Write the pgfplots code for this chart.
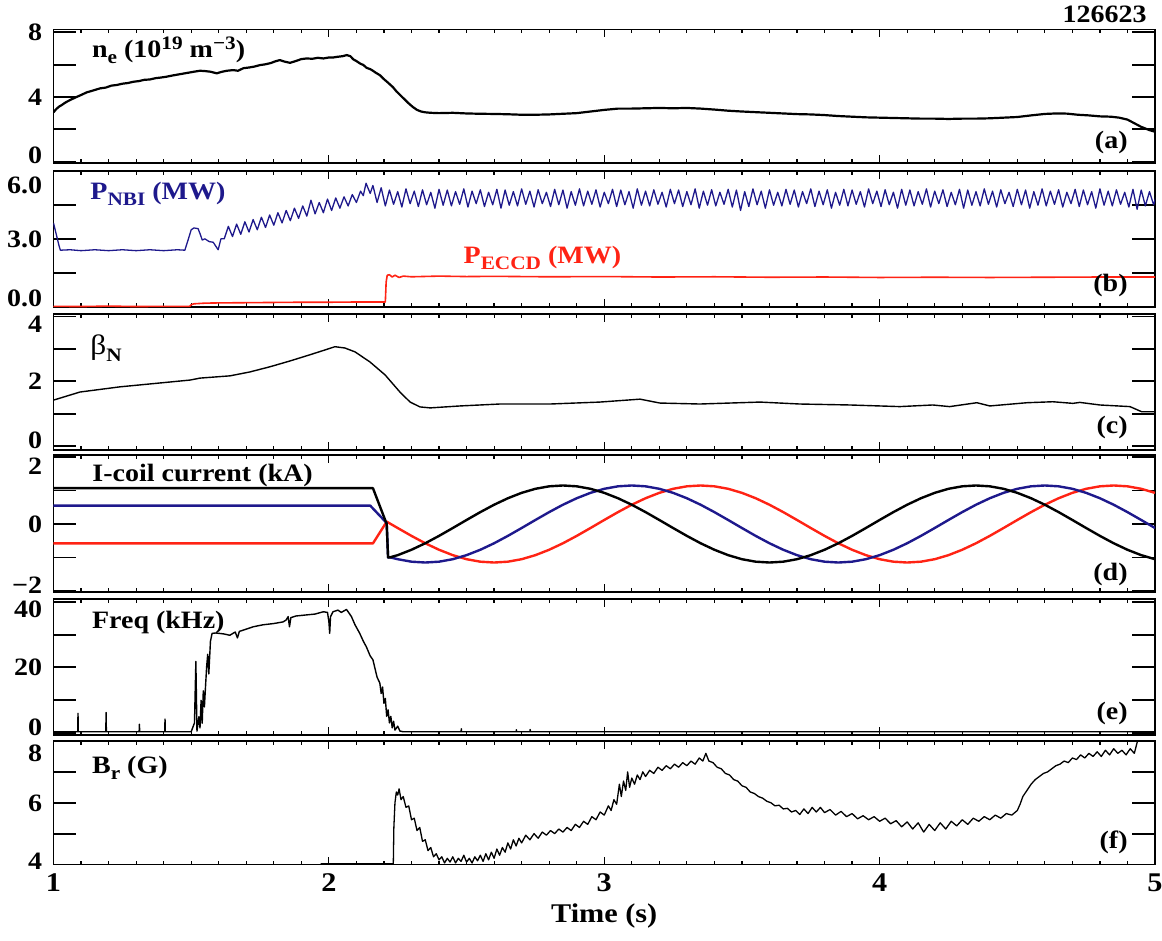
\documentclass[border=0pt]{standalone}
\usepackage{fontspec}
\setmainfont{Liberation Serif}[FakeStretch=1.12]
\usepackage{pgfplots}
\pgfplotsset{compat=1.18}
\definecolor{nbi}{RGB}{30,25,140}
\definecolor{ecr}{RGB}{255,35,20}
\newcommand\sub[1]{\raisebox{-3pt}{\fontsize{9.5}{10}\selectfont #1}}
\newcommand\sups[1]{\raisebox{4pt}{\fontsize{9.5}{10}\selectfont #1}}
\pgfplotsset{
  panel/.style={
    scale only axis, width=550.75pt, anchor=north west,
    xmin=1, xmax=5, xtick={1,2,3,4,5}, minor x tick num=9, xticklabels={},
    tick align=inside, tick pos=both,
    major tick length=11.35pt, minor tick length=2pt,
    xtick style={/pgfplots/major tick length=4pt, line width=0.6pt, black},
    ytick style={line width=0.9pt, black},
    minor tick style={line width=0.5pt, black},
    axis line style={line width=0.9pt},
    yticklabel style={anchor=base east, yshift=-4.15pt, xshift=-1.3pt},
    every axis plot/.append style={line join=round, mark=none},
  },
}
\tikzset{
  lab/.style={anchor=base west, inner sep=0pt},
  pan/.style={anchor=base east, inner sep=0pt, xshift=-13.5pt, yshift=8pt},
}
\begin{document}
\fontsize{12.5}{15}\selectfont\bfseries
\begin{tikzpicture}
\path[use as bounding box] (-26.75pt,0pt) rectangle (554.25pt,-470.5pt);
\node[anchor=base east, inner sep=0pt] at (546.75pt,-11.5pt) {126623};
% (a) n_e
\begin{axis}[panel, at={(0,-14.75pt)}, height=66.9pt, ymin=-0.1, ymax=8.17,
  ytick={0,2,4,6,8}, yticklabels={{\raisebox{3pt}{0}},{},{4},{},{8}}]
\addplot[black, line width=1.1pt] coordinates {
(1.000,3.05)(1.010,3.25)(1.020,3.40)(1.030,3.50)(1.040,3.62)(1.050,3.72)(1.065,3.85)(1.084,4.00)(1.100,4.12)(1.120,4.28)
(1.140,4.38)(1.169,4.53)(1.190,4.58)(1.210,4.70)(1.230,4.74)(1.250,4.82)(1.270,4.86)(1.290,4.94)(1.310,4.98)(1.330,5.06)
(1.350,5.08)(1.370,5.16)(1.390,5.20)(1.410,5.25)(1.430,5.32)(1.450,5.38)(1.470,5.44)(1.490,5.50)(1.510,5.56)(1.532,5.62)
(1.550,5.60)(1.570,5.56)(1.593,5.46)(1.610,5.55)(1.630,5.62)(1.652,5.66)(1.670,5.62)(1.690,5.78)(1.710,5.82)(1.730,5.88)
(1.750,5.97)(1.770,6.02)(1.790,6.10)(1.805,6.20)(1.822,6.28)(1.840,6.18)(1.859,6.11)(1.880,6.22)(1.900,6.34)(1.919,6.38)
(1.940,6.36)(1.960,6.42)(1.980,6.38)(2.000,6.44)(2.016,6.44)(2.030,6.48)(2.050,6.52)(2.065,6.59)(2.078,6.52)(2.089,6.32)
(2.100,6.22)(2.115,6.05)(2.125,5.98)(2.137,5.80)(2.150,5.72)(2.160,5.62)(2.170,5.50)(2.185,5.35)(2.200,5.10)(2.215,4.88)
(2.233,4.60)(2.245,4.35)(2.260,4.10)(2.275,3.85)(2.290,3.60)(2.305,3.38)(2.320,3.20)(2.335,3.10)(2.350,3.05)(2.370,3.02)
(2.400,3.00)(2.450,3.02)(2.500,2.98)(2.550,2.96)(2.600,2.95)(2.650,2.93)(2.700,2.90)(2.750,2.90)(2.800,2.92)(2.850,2.96)
(2.900,3.00)(2.950,3.10)(3.000,3.20)(3.050,3.28)(3.100,3.28)(3.150,3.30)(3.200,3.32)(3.250,3.30)(3.300,3.32)(3.350,3.28)
(3.400,3.22)(3.450,3.15)(3.500,3.10)(3.550,3.06)(3.600,3.02)(3.650,2.98)(3.700,2.94)(3.750,2.92)(3.800,2.88)(3.850,2.82)
(3.900,2.78)(3.950,2.74)(4.000,2.72)(4.050,2.70)(4.100,2.68)(4.150,2.66)(4.200,2.66)(4.250,2.64)(4.300,2.66)(4.350,2.66)
(4.400,2.68)(4.450,2.72)(4.500,2.76)(4.550,2.86)(4.600,2.95)(4.640,2.98)(4.680,2.97)(4.720,2.90)(4.760,2.86)(4.800,2.80)
(4.840,2.78)(4.870,2.72)(4.900,2.60)(4.920,2.42)(4.950,2.15)(4.980,1.95)(5.000,1.85)};
\node[lab, xshift=19.1pt, yshift=-13.9pt] at (rel axis cs:0,1) {n\sub{e} (10\sups{19} m\sups{−3})};
\node[pan, yshift=-0.5pt] at (rel axis cs:1,0) {(a)};
\end{axis}
% (b) P_NBI, P_ECCD
\begin{axis}[panel, at={(0,-85.35pt)}, height=68.15pt, ymin=0, ymax=6,
  ytick={0,1.5,3,4.5,6}, yticklabels={{\raisebox{4.5pt}{0.0}},{},{3.0},{},{\raisebox{-7.5pt}{6.0}}}]
\addplot[nbi, line width=0.65pt] coordinates {
(1.000,3.70)(1.010,3.20)(1.020,2.70)(1.025,2.50)(1.060,2.52)(1.100,2.48)(1.150,2.52)(1.200,2.48)(1.250,2.52)(1.300,2.48)
(1.350,2.52)(1.400,2.48)(1.450,2.52)(1.477,2.50)(1.490,3.00)(1.500,3.40)(1.510,3.48)(1.525,3.45)(1.533,3.20)(1.540,2.95)
(1.550,3.00)(1.565,2.88)(1.580,2.85)(1.598,2.52)(1.608,3.00)(1.620,3.00)
(1.635,3.55)(1.650,3.10)(1.665,3.65)(1.680,3.20)(1.695,3.75)(1.710,3.30)(1.725,3.85)(1.740,3.40)(1.755,3.95)(1.770,3.50)
(1.785,4.05)(1.800,3.60)(1.815,4.15)(1.830,3.70)(1.845,4.25)(1.860,3.80)(1.875,4.35)(1.890,3.90)(1.905,4.45)(1.920,4.00)
(1.935,4.70)(1.950,4.10)(1.965,4.60)(1.980,4.15)(1.995,4.75)(2.010,4.25)(2.025,4.80)(2.040,4.35)(2.055,4.85)(2.070,4.45)
(2.085,4.95)(2.100,4.60)(2.115,5.10)(2.125,4.90)(2.135,5.45)(2.150,5.00)(2.160,5.35)(2.175,4.60)(2.190,5.25)
(2.205,4.45)(2.220,5.15)(2.235,4.52)(2.250,5.08)(2.265,4.40)(2.280,5.20)(2.295,4.55)(2.310,5.10)(2.325,4.42)(2.340,5.16)
(2.355,4.50)(2.370,5.05)(2.385,4.35)(2.400,5.18)(2.415,4.48)(2.430,5.15)(2.445,4.45)(2.460,5.08)(2.475,4.52)(2.490,5.20)
(2.505,4.40)(2.520,5.10)(2.535,4.55)(2.550,5.16)(2.565,4.42)(2.580,5.05)(2.595,4.50)(2.610,5.18)(2.625,4.35)(2.640,5.15)
(2.655,4.48)(2.670,5.08)(2.685,4.45)(2.700,5.20)(2.715,4.52)(2.730,5.10)(2.745,4.40)(2.760,5.16)(2.775,4.55)(2.790,5.05)
(2.805,4.42)(2.820,5.18)(2.835,4.50)(2.850,5.15)(2.865,4.35)(2.880,5.08)(2.895,4.48)(2.910,5.20)(2.925,4.45)(2.940,5.10)
(2.955,4.52)(2.970,5.16)(2.985,4.40)(3.000,5.05)(3.015,4.55)(3.030,5.18)(3.045,4.42)(3.060,5.15)(3.075,4.50)(3.090,5.08)
(3.105,4.35)(3.120,5.20)(3.135,4.48)(3.150,5.10)(3.165,4.45)(3.180,5.16)(3.195,4.52)(3.210,5.05)(3.225,4.40)(3.240,5.18)
(3.255,4.55)(3.270,5.15)(3.285,4.42)(3.300,5.08)(3.315,4.50)(3.330,5.20)(3.345,4.35)(3.360,5.10)(3.375,4.48)(3.390,5.16)
(3.405,4.45)(3.420,5.05)(3.435,4.52)(3.450,5.18)(3.465,4.40)(3.480,5.15)(3.495,4.25)(3.510,5.08)(3.525,4.42)(3.540,5.20)
(3.555,4.50)(3.570,5.10)(3.585,4.35)(3.600,5.16)(3.615,4.48)(3.630,5.05)(3.645,4.45)(3.660,5.18)(3.675,4.52)(3.690,5.15)
(3.705,4.40)(3.720,5.08)(3.735,4.55)(3.750,5.20)(3.765,4.42)(3.780,5.10)(3.795,4.50)(3.810,5.16)(3.825,4.35)(3.840,5.05)
(3.855,4.48)(3.870,5.18)(3.885,4.45)(3.900,5.15)(3.915,4.52)(3.930,5.08)(3.945,4.40)(3.960,5.20)(3.975,4.55)(3.990,5.10)
(4.005,4.42)(4.020,5.16)(4.035,4.50)(4.050,5.05)(4.065,4.35)(4.080,5.18)(4.095,4.48)(4.110,5.15)(4.125,4.45)(4.140,5.08)
(4.155,4.52)(4.170,5.20)(4.185,4.40)(4.200,5.10)(4.215,4.55)(4.230,5.16)(4.245,4.42)(4.260,5.05)(4.275,4.50)(4.290,5.18)
(4.305,4.35)(4.320,5.15)(4.335,4.48)(4.350,5.08)(4.365,4.45)(4.380,5.20)(4.395,4.52)(4.410,5.10)(4.425,4.40)(4.440,5.16)
(4.455,4.55)(4.470,5.05)(4.485,4.42)(4.500,5.18)(4.515,4.50)(4.530,5.15)(4.545,4.35)(4.560,5.08)(4.575,4.48)(4.590,5.20)
(4.605,4.45)(4.620,5.10)(4.635,4.52)(4.650,5.16)(4.665,4.40)(4.680,5.05)(4.695,4.55)(4.710,5.18)(4.725,4.42)(4.740,5.15)
(4.755,4.50)(4.770,5.08)(4.785,4.35)(4.800,5.20)(4.815,4.48)(4.830,5.10)(4.845,4.45)(4.860,5.16)(4.875,4.52)(4.890,5.05)
(4.905,4.40)(4.920,5.18)(4.935,4.30)(4.950,5.15)(4.965,4.45)(4.980,5.08)(4.995,4.50)(5.010,5.10)};
\addplot[ecr, line width=0.8pt] coordinates {
(1.000,0.03)(1.100,0.02)(1.200,0.04)(1.300,0.02)(1.400,0.03)(1.495,0.03)(1.500,0.10)(1.510,0.14)(1.550,0.17)(1.600,0.18)
(1.700,0.19)(1.800,0.20)(1.900,0.21)(2.000,0.21)(2.100,0.22)(2.205,0.22)(2.208,1.10)(2.212,1.40)(2.220,1.42)(2.230,1.32)
(2.240,1.40)(2.255,1.30)(2.270,1.36)(2.300,1.33)(2.400,1.36)(2.500,1.34)(2.600,1.35)(2.800,1.33)(3.000,1.34)(3.200,1.32)
(3.400,1.33)(3.600,1.31)(3.800,1.32)(4.000,1.30)(4.200,1.31)(4.400,1.30)(4.600,1.31)(4.800,1.32)(5.000,1.32)};
\node[lab, xshift=18.25pt, yshift=-14.3pt, text=nbi] at (rel axis cs:0,1) {P\sub{NBI} (MW)};
\node[lab, xshift=204.9pt, yshift=-46.3pt, text=ecr] at (rel axis cs:0,1) {P\sub{ECCD} (MW)};
\node[pan] at (rel axis cs:1,0) {(b)};
\end{axis}
% (c) beta_N
\begin{axis}[panel, at={(0,-157pt)}, height=68pt, ymin=-0.12, ymax=4.08,
  ytick={0,1,2,3,4}, yticklabels={{\raisebox{3pt}{0}},{},{2},{},{\raisebox{-4pt}{4}}}]
\addplot[black, line width=0.7pt] coordinates {
(1.000,1.42)(1.096,1.67)(1.241,1.83)(1.387,1.95)(1.496,2.04)(1.532,2.10)(1.641,2.17)(1.713,2.29)(1.786,2.45)(1.859,2.63)
(1.931,2.82)(1.986,2.97)(2.022,3.07)(2.058,3.03)(2.095,2.91)(2.149,2.60)(2.204,2.20)(2.258,1.67)(2.295,1.36)(2.331,1.21)
(2.368,1.18)(2.476,1.24)(2.621,1.30)(2.803,1.30)(2.984,1.36)(3.130,1.45)(3.202,1.33)(3.347,1.30)(3.565,1.36)(3.710,1.30)
(3.892,1.27)(4.073,1.22)(4.193,1.27)(4.254,1.22)(4.353,1.34)(4.400,1.24)(4.535,1.34)(4.629,1.37)(4.702,1.32)(4.727,1.35)
(4.800,1.27)(4.909,1.22)(4.952,1.06)(5.000,1.06)};
\node[lab, xshift=18.25pt, yshift=-20.5pt] at (rel axis cs:0,1) {{\mdseries\fontsize{14}{15}\selectfont β}\sub{N}};
\node[pan] at (rel axis cs:1,0) {(c)};
\end{axis}
% (d) I-coil
\begin{axis}[panel, at={(0,-227.5pt)}, height=68.5pt, ymin=-2.03, ymax=2.06,
  ytick={-2,-1,0,1,2}, yticklabels={{\raisebox{3pt}{−2}},{},{0},{},{\raisebox{-4.4pt}{2}}}]
\addplot[ecr, line width=1.2pt] coordinates {
(1.000,-0.58)(2.160,-0.58)(2.210,0.07)(2.250,-0.120)(2.300,-0.355)(2.350,-0.575)(2.400,-0.769)(2.450,-0.930)(2.500,-1.051)(2.550,-1.125)
(2.600,-1.150)(2.650,-1.125)(2.700,-1.051)(2.750,-0.930)(2.800,-0.769)(2.850,-0.575)(2.900,-0.355)(2.950,-0.120)(3.000,0.120)(3.050,0.355)
(3.100,0.575)(3.150,0.769)(3.200,0.930)(3.250,1.051)(3.300,1.125)(3.350,1.150)(3.400,1.125)(3.450,1.051)(3.500,0.930)(3.550,0.769)
(3.600,0.575)(3.650,0.355)(3.700,0.120)(3.750,-0.120)(3.800,-0.355)(3.850,-0.575)(3.900,-0.769)(3.950,-0.930)(4.000,-1.051)(4.050,-1.125)
(4.100,-1.150)(4.150,-1.125)(4.200,-1.051)(4.250,-0.930)(4.300,-0.769)(4.350,-0.575)(4.400,-0.355)(4.450,-0.120)(4.500,0.120)(4.550,0.355)
(4.600,0.575)(4.650,0.769)(4.700,0.930)(4.750,1.051)(4.800,1.125)(4.850,1.150)(4.900,1.125)(4.950,1.051)(5.000,0.930)};
\addplot[nbi, line width=1.2pt] coordinates {
(1.000,0.55)(2.150,0.55)(2.210,0.03)(2.215,-1.00)(2.220,-0.99)(2.250,-1.051)(2.300,-1.125)(2.350,-1.150)(2.400,-1.125)(2.450,-1.051)
(2.500,-0.930)(2.550,-0.769)(2.600,-0.575)(2.650,-0.355)(2.700,-0.120)(2.750,0.120)(2.800,0.355)(2.850,0.575)(2.900,0.769)(2.950,0.930)
(3.000,1.051)(3.050,1.125)(3.100,1.150)(3.150,1.125)(3.200,1.051)(3.250,0.930)(3.300,0.769)(3.350,0.575)(3.400,0.355)(3.450,0.120)
(3.500,-0.120)(3.550,-0.355)(3.600,-0.575)(3.650,-0.769)(3.700,-0.930)(3.750,-1.051)(3.800,-1.125)(3.850,-1.150)(3.900,-1.125)(3.950,-1.051)
(4.000,-0.930)(4.050,-0.769)(4.100,-0.575)(4.150,-0.355)(4.200,-0.120)(4.250,0.120)(4.300,0.355)(4.350,0.575)(4.400,0.769)(4.450,0.930)
(4.500,1.051)(4.550,1.125)(4.600,1.150)(4.650,1.125)(4.700,1.051)(4.750,0.930)(4.800,0.769)(4.850,0.575)(4.900,0.355)(4.950,0.120)(5.000,-0.120)};
\addplot[black, line width=1.2pt] coordinates {
(1.000,1.07)(2.160,1.07)(2.210,0.00)(2.215,-1.00)(2.220,-1.00)(2.250,-0.930)(2.300,-0.769)(2.350,-0.575)(2.400,-0.355)(2.450,-0.120)
(2.500,0.120)(2.550,0.355)(2.600,0.575)(2.650,0.769)(2.700,0.930)(2.750,1.051)(2.800,1.125)(2.850,1.150)(2.900,1.125)(2.950,1.051)
(3.000,0.930)(3.050,0.769)(3.100,0.575)(3.150,0.355)(3.200,0.120)(3.250,-0.120)(3.300,-0.355)(3.350,-0.575)(3.400,-0.769)(3.450,-0.930)
(3.500,-1.051)(3.550,-1.125)(3.600,-1.150)(3.650,-1.125)(3.700,-1.051)(3.750,-0.930)(3.800,-0.769)(3.850,-0.575)(3.900,-0.355)(3.950,-0.120)
(4.000,0.120)(4.050,0.355)(4.100,0.575)(4.150,0.769)(4.200,0.930)(4.250,1.051)(4.300,1.125)(4.350,1.150)(4.400,1.125)(4.450,1.051)
(4.500,0.930)(4.550,0.769)(4.600,0.575)(4.650,0.355)(4.700,0.120)(4.750,-0.120)(4.800,-0.355)(4.850,-0.575)(4.900,-0.769)(4.950,-0.930)(5.000,-1.051)};
\node[lab, xshift=19.25pt, yshift=-13.35pt] at (rel axis cs:0,1) {I-coil current (kA)};
\node[pan, yshift=-2pt] at (rel axis cs:1,0) {(d)};
\end{axis}
% (e) Freq
\begin{axis}[panel, at={(0,-299.5pt)}, height=68pt, ymin=-0.7, ymax=40.9,
  ytick={0,10,20,30,40}, yticklabels={{\raisebox{3pt}{0}},{},{20},{},{\raisebox{-3.7pt}{40}}}]
\addplot[black, line width=0.7pt] coordinates {
(1.000,0.3)(1.088,0.3)(1.089,5.9)(1.090,0.3)(1.190,0.3)(1.191,6.2)(1.192,0.3)(1.311,0.3)(1.312,2.6)(1.313,0.3)
(1.404,0.3)(1.405,4.2)(1.406,0.3)(1.500,0.3)(1.512,3.0)(1.517,21.8)(1.521,0.5)(1.528,4.9)(1.532,1.5)(1.536,9.9)
(1.540,2.9)(1.544,12.8)(1.548,7.9)(1.552,14.0)(1.556,20.0)(1.560,24.0)(1.564,18.0)(1.570,28.0)(1.576,30.4)(1.590,30.5)
(1.620,30.2)(1.640,29.8)(1.660,30.8)(1.668,29.0)(1.675,31.0)(1.690,31.4)(1.725,32.4)(1.760,33.0)(1.800,33.4)(1.834,33.9)
(1.845,34.5)(1.852,35.5)(1.857,32.4)(1.862,35.2)(1.880,35.7)(1.950,36.3)(1.980,37.0)(1.995,36.8)(2.000,34.0)(2.003,30.4)
(2.006,35.5)(2.015,37.0)(2.033,37.5)(2.045,36.8)(2.064,37.7)(2.074,36.5)(2.082,35.5)(2.095,33.0)(2.112,30.4)(2.125,28.0)
(2.136,26.3)(2.150,23.5)(2.160,22.3)(2.175,17.0)(2.185,15.2)(2.190,12.0)(2.195,14.0)(2.200,9.0)(2.205,10.5)(2.210,5.0)
(2.215,7.0)(2.220,3.0)(2.225,5.0)(2.230,1.5)(2.235,3.5)(2.240,0.8)(2.250,2.0)(2.258,0.5)(2.270,0.3)(2.480,0.3)
(2.481,1.2)(2.482,0.3)(2.680,0.3)(2.681,0.9)(2.682,0.3)(2.730,0.3)(2.731,1.0)(2.732,0.3)(5.000,0.3)};
\node[lab, xshift=19.1pt, yshift=-14.65pt] at (rel axis cs:0,1) {Freq (kHz)};
\node[pan] at (rel axis cs:1,0) {(e)};
\end{axis}
% (f) B_r
\begin{axis}[panel, at={(0,-370.5pt)}, height=61.75pt, ymin=4, ymax=8,
  ytick={4,5,6,7,8}, yticklabels={{\raisebox{1.5pt}{4}},{},{6},{},{\raisebox{-6pt}{8}}},
  xticklabels={1,2,3,4,5}, xticklabel style={anchor=base, yshift=-13.5pt, font=\fontsize{13.5}{15}\selectfont\bfseries},
  xlabel={Time (s)}, xlabel style={at={(rel axis cs:0.5,0)}, anchor=base, yshift=-28.75pt, font=\fontsize{13.5}{15}\selectfont\bfseries}]
\addplot[black, line width=0.65pt] coordinates {
(1.970,4.02)(2.234,4.02)(2.236,5.20)(2.240,6.00)(2.245,6.35)(2.250,6.25)(2.255,6.45)(2.262,6.10)(2.270,6.20)(2.280,5.85)
(2.290,5.90)(2.300,5.45)(2.310,5.50)(2.320,5.10)(2.330,5.20)(2.340,4.75)(2.350,4.80)(2.360,4.45)(2.370,4.55)(2.380,4.25)
(2.390,4.35)(2.400,4.15)(2.410,4.25)(2.420,4.05)(2.430,4.20)(2.440,4.08)(2.450,4.25)(2.460,4.05)(2.470,4.20)(2.480,4.10)
(2.490,4.30)(2.500,4.08)(2.510,4.20)(2.520,4.05)(2.530,4.25)(2.540,4.12)(2.550,4.30)(2.560,4.10)(2.570,4.35)(2.580,4.15)
(2.590,4.40)(2.600,4.20)(2.610,4.50)(2.620,4.30)(2.630,4.55)(2.640,4.40)(2.650,4.70)(2.660,4.50)(2.670,4.80)(2.680,4.60)
(2.690,4.85)(2.700,4.70)(2.715,4.95)(2.730,4.80)(2.745,5.00)(2.760,4.85)(2.775,5.05)(2.790,4.95)(2.805,5.10)(2.820,5.00)
(2.835,5.15)(2.850,5.05)(2.865,5.20)(2.880,5.10)(2.895,5.30)(2.910,5.20)(2.925,5.40)(2.940,5.30)(2.955,5.55)(2.970,5.45)
(2.985,5.70)(3.000,5.60)(3.015,5.90)(3.025,5.75)(3.035,6.10)(3.045,5.95)(3.055,6.60)(3.062,6.20)(3.070,6.70)(3.078,6.40)
(3.085,7.00)(3.092,6.50)(3.100,6.80)(3.110,6.60)(3.120,6.90)(3.130,6.75)(3.140,7.00)(3.150,6.85)(3.165,7.05)(3.180,6.95)
(3.195,7.15)(3.210,7.05)(3.225,7.20)(3.240,7.10)(3.255,7.25)(3.270,7.15)(3.285,7.30)(3.300,7.20)(3.315,7.35)(3.330,7.25)
(3.345,7.45)(3.358,7.35)(3.369,7.60)(3.380,7.35)(3.395,7.30)(3.410,7.15)(3.425,7.10)(3.440,6.95)(3.455,6.90)(3.470,6.75)
(3.485,6.70)(3.500,6.55)(3.515,6.50)(3.530,6.35)(3.545,6.30)(3.560,6.20)(3.575,6.15)(3.590,6.05)(3.605,6.00)(3.620,5.90)
(3.635,5.92)(3.650,5.80)(3.665,5.82)(3.680,5.70)(3.695,5.75)(3.710,5.62)(3.725,5.80)(3.740,5.65)(3.755,5.85)(3.770,5.70)
(3.785,5.85)(3.800,5.68)(3.820,5.78)(3.840,5.60)(3.860,5.72)(3.880,5.55)(3.900,5.65)(3.920,5.48)(3.940,5.58)(3.960,5.45)
(3.980,5.55)(4.000,5.40)(4.020,5.50)(4.040,5.32)(4.060,5.42)(4.080,5.22)(4.100,5.38)(4.120,5.15)(4.140,5.35)(4.160,5.05)
(4.180,5.30)(4.200,5.10)(4.220,5.35)(4.240,5.15)(4.260,5.40)(4.280,5.25)(4.300,5.45)(4.320,5.30)(4.340,5.50)(4.360,5.40)
(4.380,5.55)(4.400,5.45)(4.420,5.60)(4.440,5.50)(4.460,5.65)(4.480,5.60)(4.500,5.75)(4.510,5.95)(4.520,6.20)(4.535,6.40)
(4.550,6.60)(4.565,6.75)(4.580,6.85)(4.595,6.95)(4.610,7.00)(4.625,7.10)(4.640,7.20)(4.655,7.25)(4.670,7.35)(4.685,7.30)
(4.700,7.45)(4.715,7.40)(4.730,7.55)(4.745,7.45)(4.760,7.60)(4.775,7.50)(4.790,7.65)(4.805,7.50)(4.820,7.70)(4.835,7.55)
(4.850,7.75)(4.865,7.60)(4.880,7.70)(4.895,7.55)(4.910,7.75)(4.925,7.60)(4.935,7.95)(4.945,8.20)};
\node[lab, xshift=19.1pt, yshift=-16.15pt] at (rel axis cs:0,1) {B\sub{r} (G)};
\node[pan] at (rel axis cs:1,0) {(f)};
\end{axis}
\end{tikzpicture}
\end{document}
